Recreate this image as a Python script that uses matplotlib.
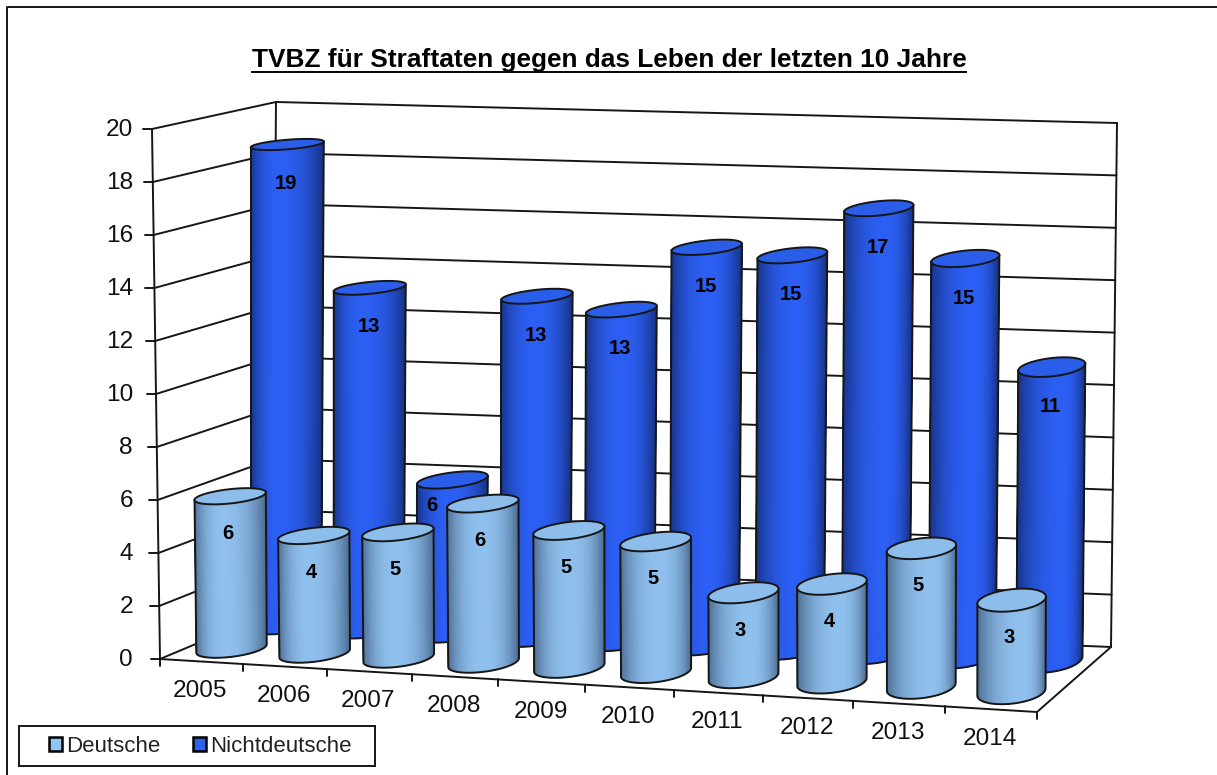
import numpy as np
import matplotlib
matplotlib.use("Agg")
import matplotlib.pyplot as plt
from matplotlib.collections import PolyCollection
from matplotlib.patches import Patch, Polygon, Rectangle

years = ["2005", "2006", "2007", "2008", "2009", "2010", "2011", "2012", "2013", "2014"]
deutsche = [5.8, 4.47, 4.75, 6.0, 5.15, 4.9, 3.15, 3.65, 5.15, 3.4]
nichtdeutsche = [18.65, 13.2, 5.9, 13.1, 12.7, 15.2, 15.0, 16.9, 15.1, 11.1]
deutsche_labels = ["6", "4", "5", "6", "5", "5", "3", "4", "5", "3"]
nichtdeutsche_labels = ["19", "13", "6", "13", "13", "15", "15", "17", "15", "11"]
y_ticks = [0, 2, 4, 6, 8, 10, 12, 14, 16, 18, 20]

plt.rcParams["font.family"] = ["Liberation Sans", "DejaVu Sans"]
INK = "#161616"

# corners of the 3-D box on the canvas: (category 0..1, depth 0..1, value 0/20)
C = {(0, 0, 0): (160, 659), (1, 0, 0): (1037, 712), (0, 1, 0): (272, 612), (1, 1, 0): (1111, 647),
     (0, 0, 1): (152, 129), (1, 0, 1): (1037, 165), (0, 1, 1): (276, 102), (1, 1, 1): (1117, 123)}
VMAX = y_ticks[-1]


def project(u, w, v):
    u = np.asarray(u, float)
    w = np.asarray(w, float)
    z = np.asarray(v, float) / VMAX
    a = u - (0.06 - 0.035 * w) * u * (1 - u)
    out = [0.0, 0.0]
    for (i, j, k), p in C.items():
        f = (a if i else 1 - a) * (w if j else 1 - w) * (z if k else 1 - z)
        out[0] = out[0] + f * p[0]
        out[1] = out[1] + f * p[1]
    return out[0], out[1]


fig = plt.figure(figsize=(12.17, 7.75), dpi=100)
ax = fig.add_axes([0, 0, 1, 1])
ax.set_xlim(0, 1217)
ax.set_ylim(775, 0)
ax.axis("off")

# outer frame
ax.plot([7, 7, 1217], [775, 7, 7], color=INK, lw=1.4, solid_capstyle="butt")

# title
ax.text(609, 60.5, "TVBZ für Straftaten gegen das Leben der letzten 10 Jahre", ha="center", va="center",
        fontsize=18.9, fontweight="bold", color="black")
ax.plot([252, 966], [72, 72], color="black", lw=1.4)


def seg(p, q, **kw):
    ax.plot([p[0], q[0]], [p[1], q[1]], color=INK, lw=kw.get("lw", 1.4), solid_capstyle="round", zorder=kw.get("z", 2))


# walls and gridlines
for t in y_ticks:
    fl = project(0, 0, t)
    bl = project(0, 1, t)
    br = project(1, 1, t)
    seg(fl, bl)
    seg(bl, br)
    seg((fl[0] - 9, fl[1]), fl)
    ax.text(133, fl[1] + 1, str(t), ha="right", va="center", fontsize=17.6, color="#111111")
seg(project(0, 0, 0), project(0, 0, VMAX))
seg(project(0, 1, 0), project(0, 1, VMAX))
seg(project(1, 1, 0), project(1, 1, VMAX))
seg(project(0, 0, 0), project(1, 0, 0))
seg(project(1, 0, 0), project(1, 1, 0))

n = len(years)
for i in range(n + 1):
    p = project(i / n, 0, 0)
    seg(p, (p[0], p[1] + 7))
for i, y in enumerate(years):
    p = project((i + 0.5) / n, 0, 0)
    ax.text(p[0] - 1, p[1] + 29.5, y, ha="center", va="center", fontsize=17.6, color="#111111")


def mix(t, peak, dark, bright):
    d = np.where(t < peak, (peak - t) / max(peak, 1e-3), (t - peak) / (1 - peak))
    s = 1 - d ** 2.4
    return np.outer(1 - s, dark) + np.outer(s, bright)


def cylinder(i, wc, value, dark, bright, top, z):
    uc = (i + 0.5) / n
    th = np.linspace(0, 2 * np.pi, 361)[:-1]
    uu = uc + 0.034 * np.cos(th)
    ww = wc + 0.19 * np.sin(th)
    xb, yb = project(uu, ww, 0 * th)
    xt, yt = project(uu, ww, value + 0 * th)
    il, ir = int(np.argmin(xb)), int(np.argmax(xb))
    count = (ir - il) % len(th) + 1
    idx = (il + np.arange(count)) % len(th)
    peak = 0.40 + 0.28 * i / (n - 1)
    verts = []
    for a, b in zip(idx[:-1], idx[1:]):
        verts.append([(xb[a], yb[a]), (xb[b], yb[b]), (xt[b], yt[b]), (xt[a], yt[a])])
    tt = (xb[idx[:-1]] - xb[il]) / (xb[ir] - xb[il])
    cols = mix(tt, peak, dark, bright)
    ax.add_collection(PolyCollection(verts, facecolors=cols, edgecolors=cols, linewidths=0.5, zorder=z))
    ax.plot(np.r_[xt[il], xb[idx], xt[ir]], np.r_[yt[il], yb[idx], yt[ir]], color=INK, lw=1.4, zorder=z + 0.1)
    ax.add_patch(Polygon(np.c_[xt, yt], closed=True, facecolor=top, edgecolor=INK, lw=1.4, zorder=z + 0.2))


W_BACK, W_FRONT = 0.76, 0.27
LIGHT = ((0.30, 0.43, 0.58), (0.56, 0.75, 0.93), "#8DBDEB")
BLUE = ((0.09, 0.20, 0.52), (0.17, 0.37, 0.95), "#2B5EE8")

for i, val in enumerate(nichtdeutsche):
    cylinder(i, W_BACK, val, BLUE[0], BLUE[1], BLUE[2], 5 + i * 0.01)
for i, val in enumerate(deutsche):
    cylinder(i, W_FRONT, val, LIGHT[0], LIGHT[1], LIGHT[2], 7 + i * 0.01)

# value labels
for i, (val, lab) in enumerate(zip(nichtdeutsche, nichtdeutsche_labels)):
    x, y = project((i + 0.5) / n, W_BACK, val - (1.0 if val < 8 else 1.5))
    if val < 8:
        x -= 19
    ax.text(x - 1, y, lab, ha="center", va="center", fontsize=14.5, fontweight="bold", color="black", zorder=9)
for i, (val, lab) in enumerate(zip(deutsche, deutsche_labels)):
    x, y = project((i + 0.5) / n, W_FRONT, val - 1.4)
    ax.text(x - 3, y, lab, ha="center", va="center", fontsize=14.5, fontweight="bold", color="black", zorder=9)

# legend
ax.add_patch(Rectangle((19, 726), 356, 40, facecolor="white", edgecolor=INK, lw=1.4, zorder=10))
handles = [Patch(facecolor="#8FC4F5", edgecolor="black", lw=1.8, label="Deutsche"),
           Patch(facecolor="#2B62F0", edgecolor="black", lw=1.8, label="Nichtdeutsche")]
leg = ax.legend(handles=handles, ncol=2, loc="center", bbox_to_anchor=(200.5, 746), bbox_transform=ax.transData,
                fontsize=16, frameon=False, borderaxespad=0, handlelength=0.58, handleheight=0.58,
                handletextpad=0.2, columnspacing=1.45, borderpad=0, labelcolor="#222222")
leg.set_zorder(11)

fig.savefig("out.png", dpi=100, facecolor="white")
